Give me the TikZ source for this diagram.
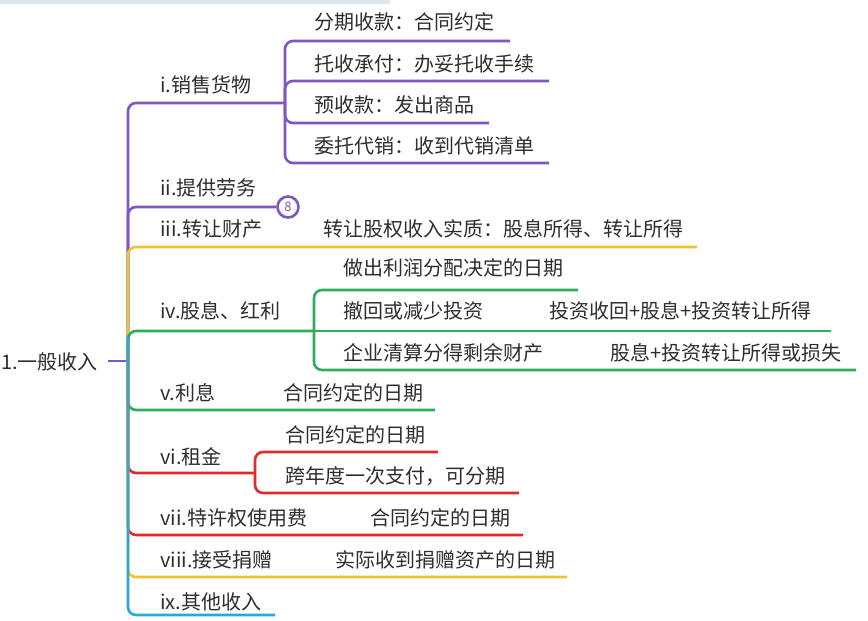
\documentclass[tikz,border=0pt]{standalone}
\usepackage{fontspec}
\setmainfont{Noto Sans CJK SC}
\definecolor{cpur}{HTML}{7E57C2}
\definecolor{cyel}{HTML}{F2C230}
\definecolor{cgrn}{HTML}{2EAD5B}
\definecolor{cred}{HTML}{E02A2A}
\definecolor{cblu}{HTML}{2AA7DE}
\definecolor{ctxt}{HTML}{2E2E2E}
\definecolor{topband}{HTML}{DCE6EE}
\tikzset{
  br/.style={line width=2.6pt, rounded corners=8pt},
  lbl/.style={anchor=west, inner sep=0pt, text=ctxt, font=\fontsize{20}{23}\selectfont},
}
\begin{document}
\begin{tikzpicture}[x=1pt,y=-1pt]
\useasboundingbox (0,0) rectangle (868,621);
\fill[white] (0,0) rectangle (868,621);
\fill[topband] (0,0) rectangle (390,4);

% root
\node[lbl] (root) at (1,362) {1.一般收入};
\coordinate (rs) at (108,361);
\coordinate (t) at (128,361);
\coordinate (tb) at (128,337);
\draw[line width=2.6pt, cpur] (rs) -- (t);

% ---- i
\node[lbl] (n1) at (160,85) {i.销售货物};
\coordinate (s1) at (285,103);
\coordinate (e11) at (510,41);
\coordinate (e12) at (549,81);
\coordinate (e13) at (489,123);
\coordinate (e14) at (549,163);
\node[lbl] (n11) at (314,22) {分期收款：合同约定};
\node[lbl] (n12) at (314,64) {托收承付：办妥托收手续};
\node[lbl] (n13) at (314,105) {预收款：发出商品};
\node[lbl] (n14) at (314,146) {委托代销：收到代销清单};
\draw[br, cpur] (t) |- (s1);
\draw[br, cpur] (s1) |- (e11);
\draw[br, cpur] (s1) |- (e12);
\draw[br, cpur] (s1) |- (e13);
\draw[br, cpur] (s1) |- (e14);

% ---- ii
\node[lbl] (n2) at (160,188) {ii.提供劳务};
\node[circle, draw=cpur, line width=2.6pt, minimum size=21pt, inner sep=0pt, text=cpur,
      font=\fontsize{13}{13}\selectfont] (c8) at (288,207) {8};
\draw[br, cpur] (t) |- (c8.west);

% ---- iii
\node[lbl] (n3) at (160,229) {iii.转让财产};
\node[lbl] (n3v) at (323,229) {转让股权收入实质：股息所得、转让所得};
\coordinate (e3) at (697,247);
\draw[br, cyel] (t) |- (e3);

% ---- iv
\node[lbl] (n4) at (160,311) {iv.股息、红利};
\coordinate (s4) at (314,331);
\coordinate (e41) at (578,290);
\coordinate (e42) at (831,331);
\coordinate (e43) at (856,370);
\node[lbl] (n41) at (343,268) {做出利润分配决定的日期};
\node[lbl] (n42) at (343,311) {撤回或减少投资};
\node[lbl] (n42v) at (549,311) {投资收回+股息+投资转让所得};
\node[lbl] (n43) at (343,353) {企业清算分得剩余财产};
\node[lbl] (n43v) at (610,353) {股息+投资转让所得或损失};
\draw[br, cgrn] (t) |- (s4);
\draw[br, cgrn] (s4) |- (e41);
\draw[br, cgrn] (s4) -- (e42);
\draw[br, cgrn] (s4) |- (e43);

% ---- v
\node[lbl] (n5) at (160,393) {v.利息};
\node[lbl] (n5v) at (283,393) {合同约定的日期};
\coordinate (e5) at (435,410);
\draw[br, cgrn] (t) |- (e5);

% ---- vi
\node[lbl] (n6) at (160,457) {vi.租金};
\coordinate (s6) at (255,473);
\coordinate (e61) at (438,452);
\coordinate (e62) at (519,493);
\node[lbl] (n61) at (285,435) {合同约定的日期};
\node[lbl] (n62) at (285,476) {跨年度一次支付，可分期};
\draw[br, cred] (t) |- (s6);
\draw[br, cred] (s6) |- (e61);
\draw[br, cred] (s6) |- (e62);

% ---- vii
\node[lbl] (n7) at (160,518) {vii.特许权使用费};
\node[lbl] (n7v) at (370,518) {合同约定的日期};
\coordinate (e7) at (523,535);
\draw[br, cred] (t) |- (e7);

% ---- viii
\node[lbl] (n8) at (160,560) {viii.接受捐赠};
\node[lbl] (n8v) at (335,560) {实际收到捐赠资产的日期};
\coordinate (e8) at (567,577);
\draw[br, cyel] (t) |- (e8);

% ---- ix
\node[lbl] (n9) at (160,602) {ix.其他收入};
\coordinate (e9) at (275,615);
\draw[br, cblu] (tb) |- (e9);
\end{tikzpicture}
\end{document}
